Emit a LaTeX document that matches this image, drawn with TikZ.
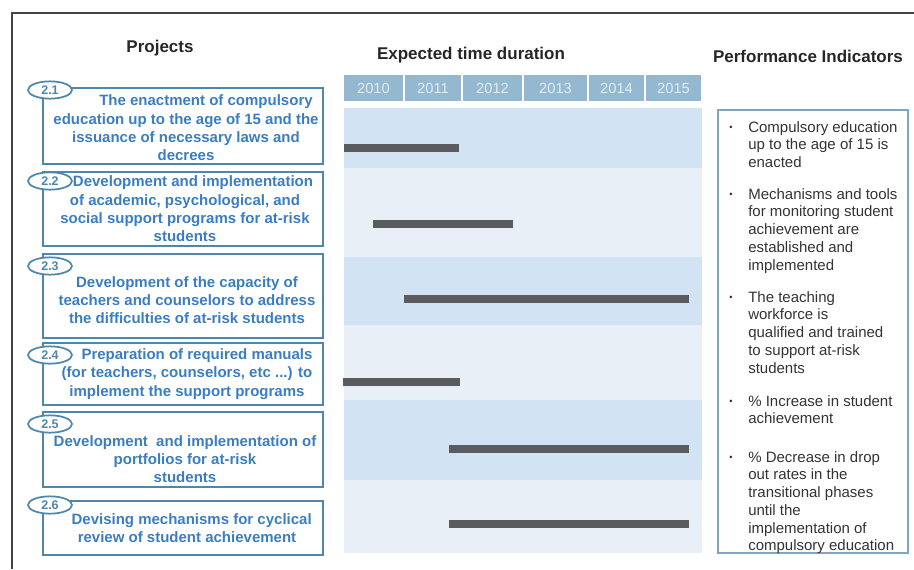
\documentclass[tikz,border=0pt]{standalone}
\usepackage{fontspec}
\setmainfont{Liberation Sans}
\usetikzlibrary{shapes}
\usetikzlibrary{positioning}

\definecolor{hdrblue}{HTML}{94B8CF}
\definecolor{yeartext}{HTML}{E2ECF3}
\definecolor{rowblue}{HTML}{D2E4F3}
\definecolor{rowpale}{HTML}{E8EFF7}
\definecolor{projline}{HTML}{4F87AB}
\definecolor{projblue}{HTML}{3A7DC0}
\definecolor{indline}{HTML}{7FA5C0}
\definecolor{bargray}{HTML}{595B5E}
\definecolor{framegray}{HTML}{444444}

\tikzset{
        heading/.style={font=\fontsize{12.75}{15}\selectfont\bfseries, text=black!85},
        projbox/.style={draw=projline, line width=1.5pt},
        tag/.style={ellipse, draw=projline, fill=white, line width=1.3pt, inner sep=0pt,
                minimum width=33pt, minimum height=13pt, text=projline,
                font=\fontsize{9.4}{11}\selectfont\bfseries},
        projtxt/.style={align=center, inner sep=0pt, text=projblue,
                font=\fontsize{11.25}{13.7}\selectfont\bfseries},
        year/.style={text=yeartext, font=\fontsize{11}{13}\selectfont},
        bar/.style={bargray, line width=5.5pt},
        indtxt/.style={align=left, inner sep=0pt, text=black!80,
                font=\fontsize{11.25}{13.3}\selectfont},
        bul/.style={inner sep=0pt, text=black!80, font=\fontsize{7}{8}\selectfont}
}

\begin{document}
\begin{tikzpicture}[x=0.75pt, y=-0.75pt]
        \useasboundingbox (0,0) rectangle (914,569);
        \draw[framegray, line width=0.9pt] (12,569) -- (12,13) -- (914,13);

        \node[heading] (projhead) at (160,48) {Projects};
        \node[heading] (timehead) at (471,55) {Expected time duration};
        \node[heading] (indhead) at (808,56) {Performance Indicators};

        \foreach \a/\b/\yr in {343/404/2010, 404/462/2011, 462/523/2012, 523/588/2013, 588/645/2014, 645/702/2015} {
                \filldraw[fill=hdrblue, draw=white, line width=0.8pt] (\a,74) rectangle (\b,102);
                \node[year] (yr\yr) at ({(\a+\b)/2},88) {\yr};
        }

        \foreach \t/\b/\c in {108/168/rowblue, 168/257/rowpale, 257/325/rowblue, 325/400/rowpale, 400/480/rowblue, 480/553/rowpale}
                \fill[\c] (344,\t) rectangle (702,\b);

        \foreach \y/\s/\e in {148/344/459, 224/373/513, 299/404/689, 382/343/460, 449/449/689, 524/449/689}
                \draw[bar] (\s,\y) -- (\e,\y);

        \draw[projbox] (43,88) rectangle (323,164);
        \node[tag] (tag1) at (50,90) {2.1};
        \node[projtxt] (proj1) at (186,128) {\hspace*{30pt}The enactment of compulsory\\education up to the age of 15 and the\\issuance of necessary laws and\\decrees};

        \draw[projbox] (43,172) rectangle (323,246);
        \node[tag] (tag2) at (50,181) {2.2};
        \node[projtxt] (proj2) at (185,209) {\hspace*{12pt}Development and implementation\\of academic, psychological, and\\social support programs for at-risk\\students};

        \draw[projbox] (43,254) rectangle (323,338);
        \node[tag] (tag3) at (50,266) {2.3};
        \node[projtxt] (proj3) at (187,300) {Development of the capacity of\\teachers and counselors to address\\the difficulties of at-risk students};

        \draw[projbox] (43,343) rectangle (323,405);
        \node[tag] (tag4) at (50,355) {2.4};
        \node[projtxt] (proj4) at (187,374) {\hspace*{15pt}Preparation of required manuals\\(for teachers, counselors, etc ...) to\\implement the support programs};

        \draw[projbox] (43,412) rectangle (323,487);
        \node[tag] (tag5) at (50,424) {2.5};
        \node[projtxt] (proj5) at (185,459) {Development~ and implementation of\\portfolios for at-risk\\students};

        \draw[projbox] (43,501) rectangle (323,555);
        \node[tag] (tag6) at (50,505) {2.6};
        \node[projtxt] (proj6) at (187,528) {\hspace*{7pt}Devising mechanisms for cyclical\\review of student achievement};

        \draw[indline, line width=1.2pt] (718,110) rectangle (908,553);
        \foreach \i/\y/\txt in {1/128/{Compulsory education\\up to the age of 15 is\\enacted},
                2/195/{Mechanisms and tools\\for monitoring student\\achievement are\\established and\\implemented},
                3/298/{The teaching\\workforce is\\qualified and trained\\to support at-risk\\students},
                4/402/{\% Increase in student\\achievement},
                5/458/{\% Decrease in drop\\out rates in the\\transitional phases\\until the\\implementation of\\compulsory education}} {
                \node[bul] (bul\i) at (731,\y) {\textbullet};
                \node[indtxt, anchor=north west] (ind\i) at (748,\y-7) {\txt};
        }
\end{tikzpicture}
\end{document}
